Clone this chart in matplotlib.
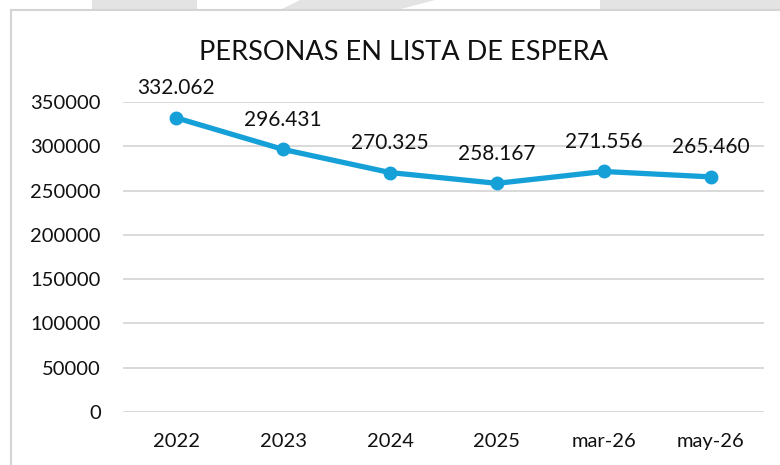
import matplotlib
matplotlib.use("Agg")
import matplotlib.pyplot as plt
from matplotlib.patches import Polygon, Rectangle
from matplotlib.lines import Line2D

categories = ["2022", "2023", "2024", "2025", "mar-26", "may-26"]
values = [332062, 296431, 270325, 258167, 271556, 265460]
value_labels = ["332.062", "296.431", "270.325", "258.167", "271.556", "265.460"]
yticks = [0, 50000, 100000, 150000, 200000, 250000, 300000, 350000]
title = "PERSONAS EN LISTA DE ESPERA"

plt.rcParams['font.family'] = ['Lato', 'DejaVu Sans']

W, H = 780, 465
fig = plt.figure(figsize=(W / 100, H / 100), dpi=100)
fig.patch.set_facecolor("white")

def fx(x):
    return x / W

def fy(y):
    return 1 - y / H

# decorative top strip
gray = "#e3e3e3"
fig.patches.append(Rectangle((fx(92), fy(10)), fx(105), 10 / H, transform=fig.transFigure,
                             facecolor=gray, edgecolor="none", zorder=0))
fig.patches.append(Polygon([(fx(280), fy(10)), (fx(300), fy(0)), (fx(435), fy(0)), (fx(397), fy(10))],
                           closed=True, transform=fig.transFigure, facecolor=gray, edgecolor="none", zorder=0))
fig.patches.append(Rectangle((fx(600), fy(10)), fx(180), 10 / H, transform=fig.transFigure,
                             facecolor=gray, edgecolor="none", zorder=0))
# chart border (left + top)
fig.lines.append(Line2D([fx(11), fx(11)], [fy(10), fy(465)], transform=fig.transFigure,
                        color="#d4d4d4", lw=1.5))
fig.lines.append(Line2D([fx(11), fx(780)], [fy(10), fy(10)], transform=fig.transFigure,
                        color="#d4d4d4", lw=1.5))

left, right, top, bottom = 123, 764, 102, 412
ax = fig.add_axes([fx(left), fy(bottom), fx(right - left), (bottom - top) / H])
ax.set_facecolor("none")

x = list(range(len(categories)))
ax.plot(x, values, color="#16a0d8", lw=3.8, marker="o", markersize=9,
        solid_capstyle="round", zorder=3)
for xi, v, lab in zip(x, values, value_labels):
    ax.annotate(lab, (xi, v), xytext=(0, 14), textcoords="offset points",
                ha="center", va="bottom", fontsize=15, color="#111111")

ax.set_xlim(-0.5, len(categories) - 0.5)
ax.set_ylim(0, 350000)
ax.set_yticks(yticks)
ax.set_yticklabels([str(t) for t in yticks])
ax.set_xticks(x)
ax.set_xticklabels(categories)
ax.grid(axis="y", color="#d9d9d9", lw=1.4)
ax.set_axisbelow(True)
for s in ax.spines.values():
    s.set_visible(False)
ax.tick_params(axis="both", length=0, labelsize=14.5, colors="#111111")
ax.tick_params(axis="y", pad=16)
ax.tick_params(axis="x", pad=15)

fig.text(fx(403), fy(52), title, ha="center", va="center", fontsize=19.5, color="#111111")

fig.savefig("out.png", dpi=100)
